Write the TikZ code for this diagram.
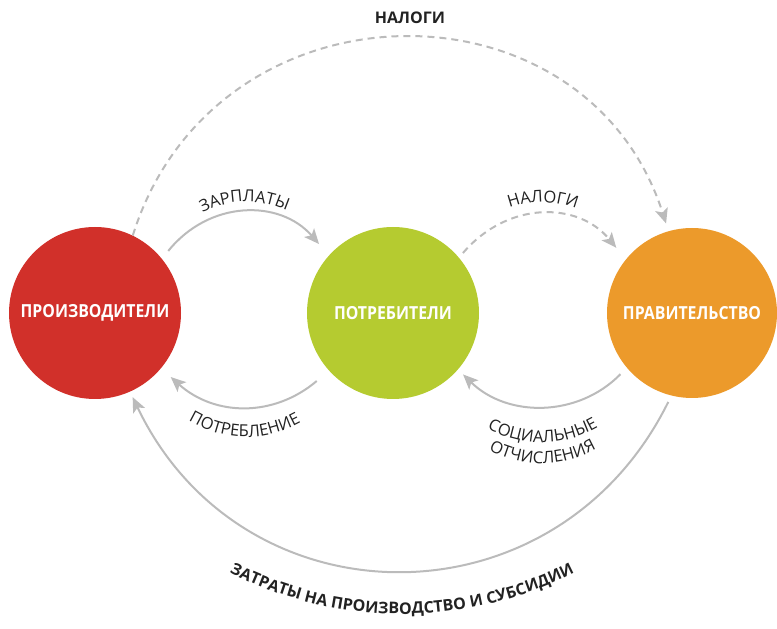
\documentclass[tikz,border=0pt]{standalone}
\usepackage{fontspec}
\setmainfont{Open Sans}
\newfontfamily\titlefont[FakeStretch=0.88]{Open Sans}
\usetikzlibrary{arrows.meta,decorations.text}
\definecolor{cred}{HTML}{D1302A}
\definecolor{cgreen}{HTML}{B5CB30}
\definecolor{corange}{HTML}{EC9A2B}
\definecolor{cgray}{HTML}{BBBBBB}
\definecolor{ctext}{HTML}{222222}
\newcommand\lblfont{\fontsize{16.5}{19}\selectfont\color{ctext}}
\newcommand\lblbold{\fontsize{16}{19}\selectfont\bfseries\color{ctext}}
\begin{document}
\begin{tikzpicture}[x=1pt,y=1pt,
  agent/.style={circle, minimum size=172pt, inner sep=0pt, text=white,
    font=\titlefont\bfseries\fontsize{18}{20}\selectfont},
  flow/.style={draw=cgray, line width=2pt, -{Stealth[length=15pt,width=13pt,inset=3.5pt]}},
  dflow/.style={flow, dash pattern=on 7pt off 5pt},
]
\useasboundingbox (0,0) rectangle (777,629);

\node[agent, fill=cred] (prod) at (95,316) {ПРОИЗВОДИТЕЛИ};
\node[agent, fill=cgreen] (cons) at (393,316) {ПОТРЕБИТЕЛИ};
\node[agent, fill=corange, minimum size=170pt] (gov) at (692,316) {ПРАВИТЕЛЬСТВО};

% connectors
\draw[flow, shorten <=10pt, shorten >=15pt] (prod.39) to[bend left=50, looseness=1.15] (cons.138);
\draw[dflow, shorten <=6pt, shorten >=15pt] (cons.40) to[bend left=50, looseness=1.15] (gov.141);
\draw[flow, shorten <=16pt, shorten >=13pt] (cons.222) to[bend left=41, looseness=1.1] (prod.-40);
\draw[flow, shorten <=9pt, shorten >=7pt] (gov.220) to[bend left=45, looseness=1.05] (cons.-41);
\draw[dflow, shorten >=8pt] (prod.64) to[out=72.6, in=107.8, looseness=1.3] (gov.106);
\draw[flow, shorten <=7pt, shorten >=6pt] (gov.256) to[out=-116.3, in=-64.5, looseness=1.23] (prod.294);

% labels
\node[font=\lblbold] (taxtop) at (410,611) {НАЛОГИ};
\path[decorate, decoration={text along path, text align=center,
  text={|\lblfont|ЗАРПЛАТЫ}}] ([yshift=12pt]prod.39) to[bend left=50, looseness=1.15] ([yshift=12pt]cons.138);
\path[decorate, decoration={text along path, text align=center,
  text={|\lblfont|НАЛОГИ}}] ([yshift=13pt]cons.40) to[bend left=50, looseness=1.15] ([yshift=13pt]gov.141);
\path[decorate, decoration={text along path, text align=center,
  text={|\lblfont|ПОТРЕБЛЕНИЕ}}] ([yshift=-32pt]prod.-40) to[bend right=41, looseness=1.1] ([yshift=-32pt]cons.222);
\path[decorate, decoration={text along path, text align=center,
  text={|\lblfont|СОЦИАЛЬНЫЕ}}] ([yshift=-37pt]cons.-41) to[bend right=45, looseness=1.05] ([yshift=-37pt]gov.220);
\path[decorate, decoration={text along path, text align=center,
  text={|\lblfont|ОТЧИСЛЕНИЯ}}] ([yshift=-58pt]cons.-41) to[bend right=45, looseness=1.05] ([yshift=-58pt]gov.220);
\path[decorate, decoration={text along path, text align=center,
  text={|\lblbold|ЗАТРАТЫ НА ПРОИЗВОДСТВО И СУБСИДИИ}}] (402,395) ++(-122:380) arc[start angle=-122, end angle=-58, radius=380];
\end{tikzpicture}
\end{document}
